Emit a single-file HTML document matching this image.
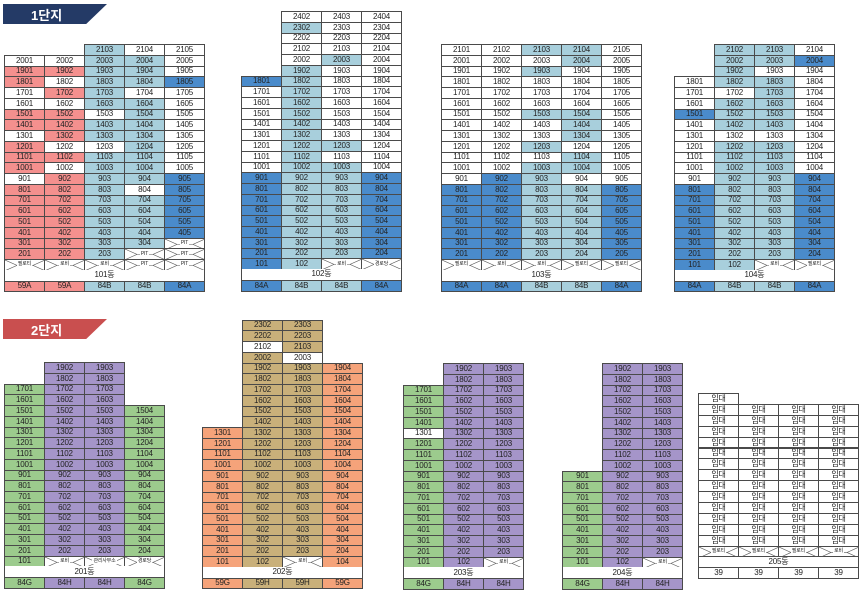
<!DOCTYPE html>
<html><head><meta charset="utf-8">
<style>
body{margin:0;background:#fff;width:860px;height:599px;overflow:hidden;position:relative;font-family:"Liberation Sans","Noto Sans CJK KR",sans-serif}
.c{position:absolute;box-sizing:border-box;border:1px solid #4a4a4a;font-size:8px;line-height:1;display:flex;align-items:center;justify-content:center;color:#222;letter-spacing:-0.2px}
.hd{position:absolute;left:3px;width:104px;height:20px;color:#fff;font-size:13px;font-weight:bold;display:flex;align-items:center;padding-left:28px;box-sizing:border-box;clip-path:polygon(0 0,100% 0,80% 100%,0 100%)}
.xl{position:absolute;font-size:5px;background:#fff;padding:0 1px;color:#222}
</style></head><body>
<div class="hd" style="top:4px;background:#243a66">1단지</div>
<div class="hd" style="top:319px;background:#c94f4f">2단지</div>
<script>
const colors={w:'#ffffff',p:'#f4908e',l:'#a8cfdc',b:'#4a8bcb',g:'#9ccb8d',v:'#a595c9',t:'#c9b07a',o:'#f5a37a'};
const b101Rows=["..lww","wwllw","ppllw","pwllb","wplww","wwllw","ppwlw","ppllw","wpllw","pwwlw","ppllw","pwllw","wpllb","pplwb","ppllb","ppllb","ppllb","ppllb","ppllX","pplXX","XXXXX"];
const b102Rows=[".www",".lww",".www",".www",".wlw",".lww","blww","wlww","wlww","wlww","wlww","wlww","wllw","wlww","wllw","bllb","bllb","bllb","bllb","bllb","bllb","bllb","bllb","blXX"];
const b103Rows=["wwllw","wwwlw","wwlww","wwwww","wwwww","wwwww","wwllw","wwwlw","wwwlw","wwlww","wwwlw","wwllw","wblww","bbllb","bbllb","bbllb","bbllb","bbllb","bbllb","bbllb","XXXXX"];
const b104Rows=[".llw",".llb",".lww","wllw","wwlw","wllw","bllw","wllw","wwww","wllw","wllw","wllw","wllb","bllb","bllb","bllb","bllb","bllb","bllb","bllb","blXX"];
const b201Rows=[".vv.",".vv.","gvv.","gvv."].concat(Array(14).fill("gvvg"),["gXXX"]);
const b202Rows=[".tt.",".tt.",".wt.",".tw.",".tto",".tto",".tto",".tto",".tto",".tto"].concat(Array(12).fill("otto"),["otXo"]);
const b203Rows=[".vv",".vv","gvv","gvv","gvv","gvv","wvv"].concat(Array(11).fill("gvv"),["gvX"]);
const b204Rows=Array(10).fill(".vv").concat(Array(8).fill("gvv"),["gvX"]);
const b205Rows=["w..."].concat(Array(13).fill("wwww"),["XXXX"]);
const buildings=[
 {name:"101동",x:4,top:44,h:10.75,w:40,rows:b101Rows,xl:["필로티","로비","로비","PIT","PIT"],types:["59A","59A","84B","84B","84A"],tc:"ppllb"},
 {name:"102동",x:241,top:11,h:10.75,w:40,rows:b102Rows,xl:["","","로비","경로당"],types:["84A","84B","84B","84A"],tc:"bllb"},
 {name:"103동",x:441,top:44,h:10.75,w:40,rows:b103Rows,xl:["필로티","로비","로비","필로티","필로티"],types:["84A","84A","84B","84B","84A"],tc:"bbllb"},
 {name:"104동",x:674,top:44,h:10.75,w:40,rows:b104Rows,xl:["","","로비","필로티"],types:["84A","84B","84B","84A"],tc:"bllb"},
 {name:"201동",x:4,top:362,h:10.75,w:40,rows:b201Rows,xl:["","로비","관리사무소","경로당"],types:["84G","84H","84H","84G"],tc:"gvvg"},
 {name:"202동",x:202,top:319.5,h:10.75,w:40,rows:b202Rows,xl:["","","로비",""],types:["59G","59H","59H","59G"],tc:"otto"},
 {name:"203동",x:403,top:363,h:10.75,w:40,rows:b203Rows,xl:["","","로비"],types:["84G","84H","84H"],tc:"gvv"},
 {name:"204동",x:562,top:363,h:10.75,w:40,rows:b204Rows,xl:["","","로비"],types:["84G","84H","84H"],tc:"gvv"},
 {name:"205동",x:698,top:393,h:10.9,w:40,rows:b205Rows,xl:["필로티","필로티","필로티","로비"],types:["39","39","39","39"],tc:"wwww",rent:true}
];
function mk(x,y,w,h,bg,txt){const d=document.createElement('div');d.className='c';
d.style.cssText=`left:${x}px;top:${y}px;width:${w+1}px;height:${h+1}px;background:${bg}`;d.textContent=txt;document.body.appendChild(d);return d;}
buildings.forEach((B)=>{
 const n=B.rows.length,nc=B.rows[0].length;
 B.rows.forEach((r,ri)=>{
  const floor=n-ri;const y=B.top+ri*B.h;
  r.split('').forEach((ch,ci)=>{
   if(ch==='.')return;const x=B.x+ci*B.w;
   if(ch==='X'){
    const d=mk(x,y,B.w,B.h,'#fff','');
    
    
    let lab=(floor===1)?B.xl[ci]:'PIT';
    d.innerHTML=`<svg width="${B.w}" height="${B.h}" style="position:absolute;left:0;top:0"><path d="M0 0L${B.w*0.3} ${B.h/2}L0 ${B.h}M${B.w} 0L${B.w*0.7} ${B.h/2}L${B.w} ${B.h}M${B.w*0.3} ${B.h/2}L${B.w*0.7} ${B.h/2}" stroke="#555" stroke-width="0.6" fill="none"/></svg><span class="xl" style="position:relative">${lab}</span>`;
    return;}
   const txt=B.rent?'임대':String(floor*100+ci+1);
   const d=mk(x,y,B.w,B.h,colors[ch],txt);
   
   
  });
 });
 const ly=B.top+n*B.h;
 const lab=mk(B.x,ly,B.w*nc,B.h,'#fff',B.name);
 lab.style.borderTop='none';
 
 
 B.types.forEach((t,ci)=>{
  const d=mk(B.x+ci*B.w,ly+B.h,B.w,B.h,colors[B.tc[ci]],t);
  
  
 });
});
</script>
</body></html>
